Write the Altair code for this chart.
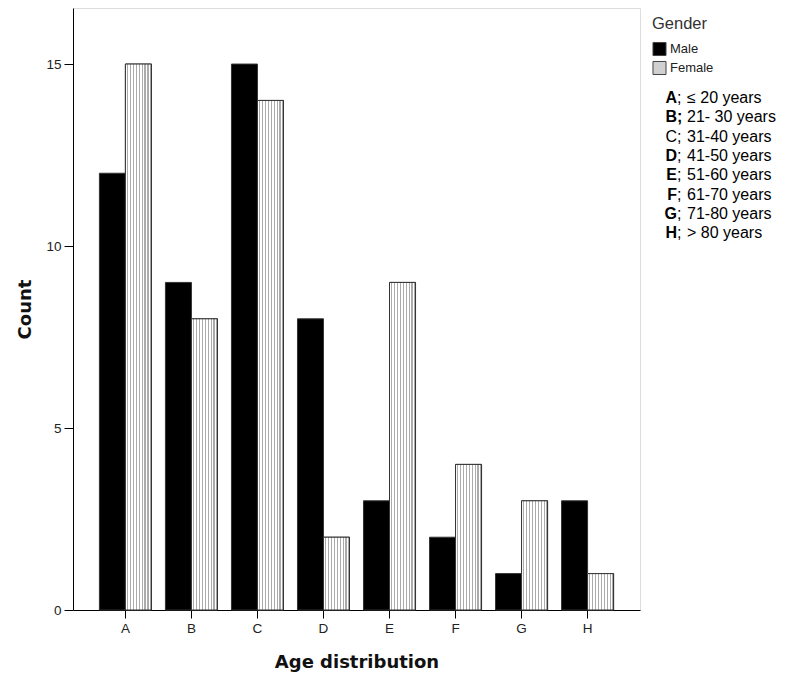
import altair as alt
import pandas as pd

# ---- data ----
categories = ["A", "B", "C", "D", "E", "F", "G", "H"]
male = [12, 9, 15, 8, 3, 2, 1, 3]
female = [15, 8, 14, 2, 9, 4, 3, 1]
genders = ["Male", "Female"]

key_letters = ["A", "B", "C", "D", "E", "F", "G", "H"]
key_letter_bold = [True, True, False, True, True, True, True, True]
key_semi_bold = [False, True, False, False, False, False, False, False]
key_rest = ["≤ 20 years", "21- 30 years", "31-40 years", "41-50 years",
            "51-60 years", "61-70 years", "71-80 years", "> 80 years"]

FONT = "Liberation Sans"
TFONT = "DejaVu Sans"

rows = []
for c, m, f in zip(categories, male, female):
    rows.append({"Age": c, "Gender": "Male", "Count": m})
    rows.append({"Age": c, "Gender": "Female", "Count": f})
df = pd.DataFrame(rows)

key = pd.DataFrame({
    "letter": key_letters,
    "lb": key_letter_bold,
    "sb": key_semi_bold,
    "rest": key_rest,
    "row": list(range(len(key_letters))),
})

W, H = 567, 602

xenc = alt.X("Age:N", sort=categories,
             scale=alt.Scale(paddingInner=0.212, paddingOuter=0.40),
             axis=alt.Axis(title="Age distribution", labelAngle=0, labelFont=FONT,
                           labelFontSize=13.5, labelColor="#222", tickSize=8,
                           tickColor="black", domainColor="black", labelPadding=3,
                           titleFont=TFONT, titleFontSize=18, titleFontWeight="bold",
                           titleColor="#111", titlePadding=19))
yenc = alt.Y("Count:Q", scale=alt.Scale(domain=[0, 16.54], nice=False),
             axis=alt.Axis(title="Count", values=[0, 5, 10, 15], grid=False,
                           labelFont=FONT, labelFontSize=13.5, labelColor="#222",
                           tickSize=9, tickColor="black", domainColor="black",
                           labelPadding=3, titleFont=TFONT, titleFontSize=18,
                           titleFontWeight="bold", titleColor="#111",
                           titlePadding=11))
xoff = alt.XOffset("Gender:N", sort=genders,
                   scale=alt.Scale(domain=genders, paddingInner=0, paddingOuter=0))

bars = alt.Chart(df).mark_bar(stroke="#333", strokeWidth=1).encode(
    x=xenc, y=yenc, xOffset=xoff,
    color=alt.Color("Gender:N", sort=genders,
                    scale=alt.Scale(domain=genders, range=["black", "#d0d0d0"]),
                    legend=alt.Legend(title="Gender", orient="none", legendX=579,
                                      legendY=8, titleFont=FONT, titleFontSize=16.5,
                                      titleFontWeight="normal", titleColor="#333",
                                      titlePadding=9, labelFont=FONT, labelFontSize=13,
                                      labelColor="#222", symbolType="square",
                                      symbolSize=170, symbolStrokeColor="#444",
                                      symbolStrokeWidth=1, rowPadding=0,
                                      labelOffset=3)),
)

# dotted look for female bars: vertical stripe gradient
stops = []
n = 9
for i in range(n):
    a = i / n
    stops.append(alt.GradientStop(offset=a, color="#ffffff"))
    stops.append(alt.GradientStop(offset=a + 0.6 / n, color="#ffffff"))
    stops.append(alt.GradientStop(offset=a + 0.6 / n, color="#ababab"))
    stops.append(alt.GradientStop(offset=a + 1.0 / n, color="#ababab"))
grad = alt.LinearGradient(gradient="linear", stops=stops, x1=0, x2=1, y1=0, y2=0)

fem = alt.Chart(df).transform_filter("datum.Gender == 'Female'").mark_bar(
    color=grad, stroke="#333", strokeWidth=1
).encode(x=xenc, y=yenc, xOffset=xoff)

XL = 604  # letter right edge (plot coords)
KF = 16
ypos = alt.Y("yp:Q", scale=None)
kbase = alt.Chart(key).transform_calculate(yp="90 + datum.row * 19.3")

letters_b = kbase.transform_filter("datum.lb").mark_text(
    font=FONT, fontSize=KF, fontWeight="bold", align="right", baseline="middle",
    color="black").encode(x=alt.value(XL), y=ypos, text="letter:N")
letters_n = kbase.transform_filter("!datum.lb").mark_text(
    font=FONT, fontSize=KF, align="right", baseline="middle",
    color="black").encode(x=alt.value(XL), y=ypos, text="letter:N")
semi_b = kbase.transform_filter("datum.sb").transform_calculate(s="';'").mark_text(
    font=FONT, fontSize=KF, fontWeight="bold", align="left", baseline="middle",
    color="black").encode(x=alt.value(XL), y=ypos, text="s:N")
semi_n = kbase.transform_filter("!datum.sb").transform_calculate(s="';'").mark_text(
    font=FONT, fontSize=KF, align="left", baseline="middle",
    color="black").encode(x=alt.value(XL), y=ypos, text="s:N")
rest = kbase.mark_text(font=FONT, fontSize=KF, align="left", baseline="middle",
                       color="black").encode(x=alt.value(XL + 10), y=ypos,
                                             text="rest:N")

chart = alt.layer(bars, fem, letters_b, letters_n, semi_b, semi_n, rest).properties(
    width=W, height=H,
    autosize=alt.AutoSizeParams(type="none"),
    padding={"left": 65, "top": 0, "right": 140, "bottom": 66},
).configure_view(stroke="#888", strokeWidth=1).configure(background="white")

chart.save("out.html", embed_options={"renderer": "svg", "actions": False})
